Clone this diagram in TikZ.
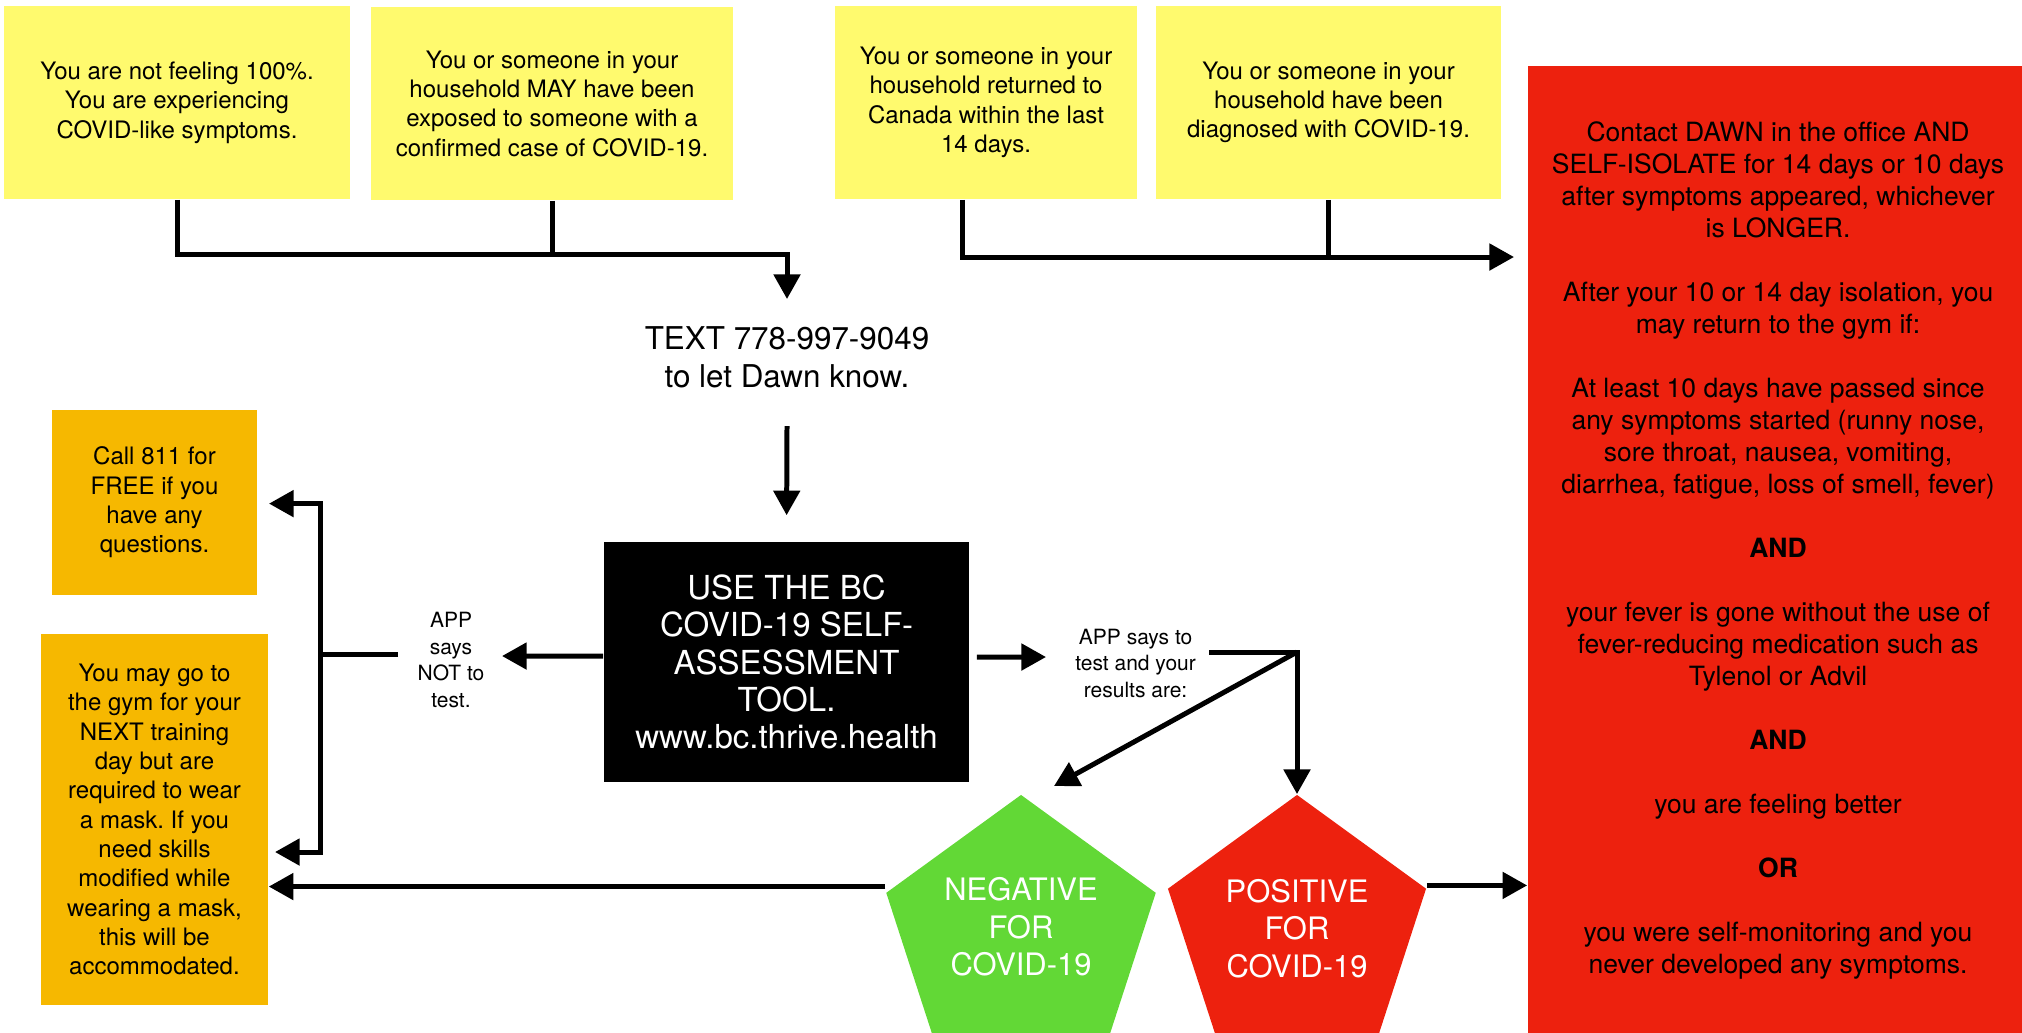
\documentclass[tikz,border=0pt]{standalone}
\usepackage{fontspec}
\setmainfont{TeX Gyre Heros}
\usetikzlibrary{arrows.meta,shapes.geometric}
\frenchspacing

\definecolor{stickyyellow}{RGB}{255,250,110}
\definecolor{warnorange}{RGB}{246,184,0}
\definecolor{alertred}{RGB}{237,33,14}
\definecolor{safegreen}{RGB}{98,216,54}

\newcommand{\pentatext}[2]{\raisebox{#1}[\height][\depth]{\begin{tabular}{@{}c@{}}#2\end{tabular}}}

\tikzset{
	line/.style={line width=1.42pt},
	arr/.style={line width=1.42pt, -{Triangle[length=7pt,width=7.4pt]}},
	yellowbox/.style={fill=stickyyellow, align=center, inner sep=0pt, minimum height=1.93cm, font=\fontsize{6.83pt}{8.34pt}\selectfont},
	orangebox/.style={fill=warnorange, align=center, inner sep=0pt, font=\fontsize{6.83pt}{8.34pt}\selectfont},
	redbox/.style={fill=alertred, align=center, inner sep=0pt, font=\fontsize{7.54pt}{9.1pt}\selectfont},
	toolbox/.style={fill=black, text=white, align=center, inner sep=0pt, font=\fontsize{9.4pt}{10.64pt}\selectfont},
	smalltext/.style={align=center, inner sep=0pt, font=\fontsize{5.97pt}{7.54pt}\selectfont},
	pentagon/.style={regular polygon, regular polygon sides=5, inner sep=0pt, text=white, align=center, font=\fontsize{8.8pt}{10.67pt}\selectfont}
}

\begin{document}
\begin{tikzpicture}[x=0.01cm, y=-0.01cm]
		\useasboundingbox ( 0, 0 ) rectangle ( 2022, 1032 );
		\clip ( 0, 0 ) rectangle ( 2022, 1032 );

		% верхние блоки
		\node [yellowbox, minimum width=3.46cm] (notwell) at ( 177, 102.5 ) {You are not feeling 100\%.\\You are experiencing\\COVID-like symptoms.};
		\node [yellowbox, minimum width=3.62cm] (exposed) at ( 552, 103.5 ) {You or someone in your\\household MAY have been\\exposed to someone with a\\confirmed case of COVID-19.};
		\node [yellowbox, minimum width=3.02cm] (returned) at ( 986, 102.5 ) {You or someone in your\\household returned to\\Canada within the last\\14 days.};
		\node [yellowbox, minimum width=3.45cm] (diagnosed) at ( 1328.5, 102.5 ) {You or someone in your\\household have been\\diagnosed with COVID-19.};

		% самоизоляция
		\node [redbox, minimum width=5cm, minimum height=9.69cm] (isolate) at ( 1778, 550.5 ) {Contact DAWN in the office AND\\SELF-ISOLATE for 14 days or 10 days\\after symptoms appeared, whichever\\is LONGER.\\[9.1pt]
			After your 10 or 14 day isolation, you\\may return to the gym if:\\[9.1pt]
			At least 10 days have passed since\\any symptoms started (runny nose,\\sore throat, nausea, vomiting,\\diarrhea, fatigue, loss of smell, fever)\\[9.1pt]
			\textbf{AND}\\[9.1pt]
			your fever is gone without the use of\\fever-reducing medication such as\\Tylenol or Advil\\[9.1pt]
			\textbf{AND}\\[9.1pt]
			you are feeling better\\[9.1pt]
			\textbf{OR}\\[9.1pt]
			you were self-monitoring and you\\never developed any symptoms.};

		% сообщение и тест
		\node [smalltext, font=\fontsize{8.93pt}{10.8pt}\selectfont] (textdawn) at ( 787, 357 ) {TEXT 778-997-9049\\to let Dawn know.};
		\node [toolbox, minimum width=3.65cm, minimum height=2.40cm] (tool) at ( 786.5, 662 ) {USE THE BC\\COVID-19 SELF-\\ASSESSMENT\\TOOL.\\www.bc.thrive.health};

		% слева
		\node [orangebox, minimum width=2.05cm, minimum height=1.85cm] (call) at ( 154.5, 502.5 ) {Call 811 for\\FREE if you\\have any\\questions.};
		\node [orangebox, minimum width=2.27cm, minimum height=3.71cm] (gym) at ( 154.5, 819.5 ) {You may go to\\the gym for your\\NEXT training\\day but are\\required to wear\\a mask. If you\\need skills\\modified while\\wearing a mask,\\this will be\\accommodated.};
		\node [smalltext] (nottest) at ( 451, 660 ) {APP\\says\\NOT to\\test.};

		% результаты
		\node [smalltext] (totest) at ( 1135.6, 663 ) {APP says to\\test and your\\results are:};
		\node [pentagon, fill=safegreen, minimum size=2.832cm] (neg) at ( 1021, 936.6 ) {\pentatext{0.06cm}{NEGATIVE\\FOR\\COVID-19}};
		\node [pentagon, fill=alertred, minimum size=2.712cm] (pos) at ( 1297, 930.6 ) {\pentatext{-0.015cm}{POSITIVE\\FOR\\COVID-19}};

		% точки стрелок
		\coordinate (mergeL) at ( 787, 254 );
		\coordinate (textin) at ( 787, 299 );
		\coordinate (isoin) at ( 1514, 257 );
		\coordinate (textout) at ( 787, 426 );
		\coordinate (nottestin) at ( 502, 656 );
		\coordinate (nottestout) at ( 398, 654 );
		\coordinate (splitL) at ( 320, 654 );
		\coordinate (callin) at ( 269, 503.6 );
		\coordinate (gymin) at ( 275, 852 );
		\coordinate (totestin) at ( 1046, 657 );
		\coordinate (totestout) at ( 1209, 652 );
		\coordinate (splitR) at ( 1297, 652 );
		\coordinate (negin) at ( 1054, 786 );

		% стрелки
		\draw [arr] (notwell.south) |- (mergeL) -- (textin);
		\draw [line] (exposed.south) -- (exposed.south |- mergeL);
		\draw [arr] ([xshift=-0.24cm]returned.south) |- (isoin);
		\draw [line] (diagnosed.south) -- (diagnosed.south |- isoin);
		\draw [arr, shorten >=0.26cm] (textout) -- (tool.north);
		\draw [arr] ([yshift=0.06cm]tool.west) -- (nottestin);
		\draw [arr] (nottestout) -- (splitL) |- (callin);
		\draw [arr] (splitL) |- (gymin);
		\draw [arr, shorten <=0.07cm] ([yshift=0.05cm]tool.east) -- (totestin);
		\draw [arr] (totestout) -- (splitR) -- (pos.corner 1);
		\draw [arr] (splitR) -- (negin);
		\draw [arr] ([yshift=0.06cm]neg.corner 2) -- ([yshift=0.06cm]neg.corner 2 -| gym.east);
		\draw [arr] ([yshift=0.03cm]pos.corner 5) -- ([yshift=0.03cm]pos.corner 5 -| isolate.west);
	\end{tikzpicture}
\end{document}
